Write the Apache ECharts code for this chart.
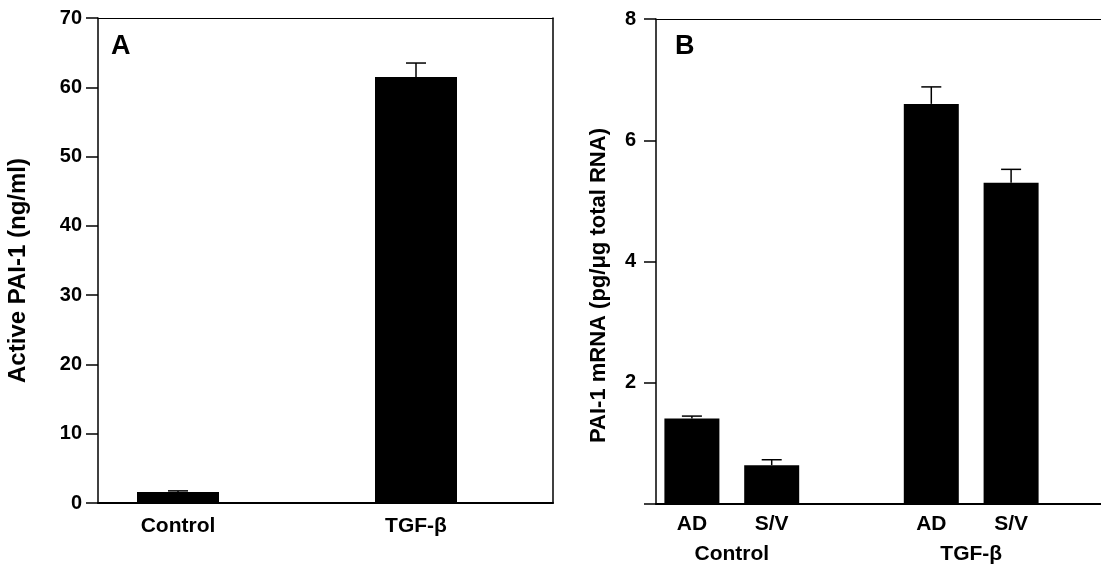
<!DOCTYPE html>
<html><head><meta charset="utf-8">
<script src="https://cdn.jsdelivr.net/npm/echarts@6/dist/echarts.min.js"></script>
<style>html,body{margin:0;padding:0;background:#fff}#c{width:1101px;height:565px}</style>
</head><body><div id="c"></div>
<script>
// Panel A
const catsA = ['Control', 'TGF-β'];
const valsA = [1.6, 61.5];
const errTopA = [1.75, 63.5];
const ticksA = [0, 10, 20, 30, 40, 50, 60, 70];
// Panel B
const catsB = ['AD', 'S/V', '', 'AD', 'S/V'];
const valsB = [1.41, 0.64, null, 6.6, 5.3];
const errTopB = [1.45, 0.73, null, 6.88, 5.52];
const groupsB = ['', 'Control', '', '', 'TGF-β', ''];
const ticksB = [2, 4, 6, 8];

const FONT = '"Liberation Sans", Arial, Helvetica, sans-serif';
const txt = (s) => ({color: '#000', fontFamily: FONT, fontWeight: 'bold', fontSize: s});
const chart = echarts.init(document.getElementById('c'), null, {renderer: 'canvas'});

function errSeries(xi, yi, tops, vals) {
  return {
    type: 'custom', xAxisIndex: xi, yAxisIndex: yi, z: 5,
    data: tops.map((t, i) => [i, vals[i], t]),
    renderItem: function (params, api) {
      const v = api.value(1), t = api.value(2);
      if (isNaN(v) || isNaN(t)) return null;
      const p0 = api.coord([api.value(0), v]);
      const p1 = api.coord([api.value(0), t]);
      const st = {stroke: '#000', lineWidth: 1.5};
      return {type: 'group', children: [
        {type: 'line', shape: {x1: p0[0], y1: p0[1], x2: p1[0], y2: p1[1]}, style: st},
        {type: 'line', shape: {x1: p1[0] - 10, y1: p1[1], x2: p1[0] + 10, y2: p1[1]}, style: st}
      ]};
    }
  };
}
const hid = {show: false};
function frameX(grid, pos, w) {
  return {type: 'value', gridIndex: grid, position: pos, min: 0, max: 1,
    axisLine: {show: true, onZero: false, lineStyle: {color: '#000', width: w}},
    axisTick: hid, axisLabel: hid, splitLine: hid};
}
function frameY(grid, pos, w, showLine) {
  return {type: 'value', gridIndex: grid, position: pos, min: 0, max: 1,
    axisLine: {show: showLine, onZero: false, lineStyle: {color: '#000', width: w}},
    axisTick: hid, axisLabel: hid, splitLine: hid};
}

chart.setOption({
  animation: false,
  backgroundColor: '#fff',
  title: [
    {text: 'A', left: 106, top: 28, textStyle: {color: '#000', fontFamily: FONT, fontWeight: 'bold', fontSize: 27}},
    {text: 'B', left: 670, top: 28, textStyle: {color: '#000', fontFamily: FONT, fontWeight: 'bold', fontSize: 27}}
  ],
  grid: [
    {left: 59, top: 18, width: 476, height: 485},
    {left: 98, top: 18, width: 455, height: 485},
    {left: 652, top: 19, width: 399, height: 485},
    {left: 656, top: 19, width: 470, height: 485}
  ],
  xAxis: [
    {type: 'category', gridIndex: 0, data: catsA, axisLine: hid, axisTick: hid,
      axisLabel: Object.assign({margin: 13}, txt(21))},
    frameX(1, 'bottom', 2),
    frameX(1, 'top', 1.2),
    {type: 'category', gridIndex: 2, data: catsB, axisLine: hid, axisTick: hid,
      axisLabel: Object.assign({margin: 10, interval: 0}, txt(21))},
    {type: 'category', gridIndex: 2, data: groupsB, boundaryGap: false, position: 'bottom', offset: 30,
      axisLine: hid, axisTick: hid, axisLabel: Object.assign({margin: 10, interval: 0}, txt(21))},
    frameX(3, 'bottom', 2),
    frameX(3, 'top', 1.2)
  ],
  yAxis: [
    {type: 'value', gridIndex: 0, min: 0, max: 70, interval: 10, offset: -39,
      name: 'Active PAI-1 (ng/ml)', nameLocation: 'middle', nameGap: 68,
      nameTextStyle: Object.assign({padding: [0, 20, 0, 0]}, txt(24)),
      axisLine: {show: true, lineStyle: {color: '#000', width: 1.5}},
      axisTick: {show: true, inside: false, length: 12, lineStyle: {color: '#000', width: 1.5}},
      axisLabel: Object.assign({margin: 16,
        formatter: v => ticksA.indexOf(v) >= 0 ? String(v) : ''}, txt(20)),
      splitLine: hid},
    frameY(1, 'right', 1.5, true),
    {type: 'value', gridIndex: 2, min: 0, max: 8, interval: 2, offset: -4,
      name: 'PAI-1 mRNA (pg/μg total RNA)', nameLocation: 'middle', nameGap: 46,
      nameTextStyle: Object.assign({padding: [0, 48, 0, 0]}, txt(22)),
      axisLine: {show: true, lineStyle: {color: '#000', width: 1.5}},
      axisTick: {show: true, inside: false, length: 12, lineStyle: {color: '#000', width: 1.5}},
      axisLabel: Object.assign({margin: 20,
        formatter: v => ticksB.indexOf(v) >= 0 ? String(v) : ''}, txt(20)),
      splitLine: hid},
    frameY(3, 'right', 1.5, false)
  ],
  series: [
    {type: 'bar', xAxisIndex: 0, yAxisIndex: 0, data: valsA, barWidth: 82,
      itemStyle: {color: '#000'}},
    errSeries(0, 0, errTopA, valsA),
    {type: 'bar', xAxisIndex: 3, yAxisIndex: 2, data: valsB, barWidth: 55,
      itemStyle: {color: '#000'}},
    errSeries(3, 2, errTopB, valsB)
  ]
});
</script></body></html>
